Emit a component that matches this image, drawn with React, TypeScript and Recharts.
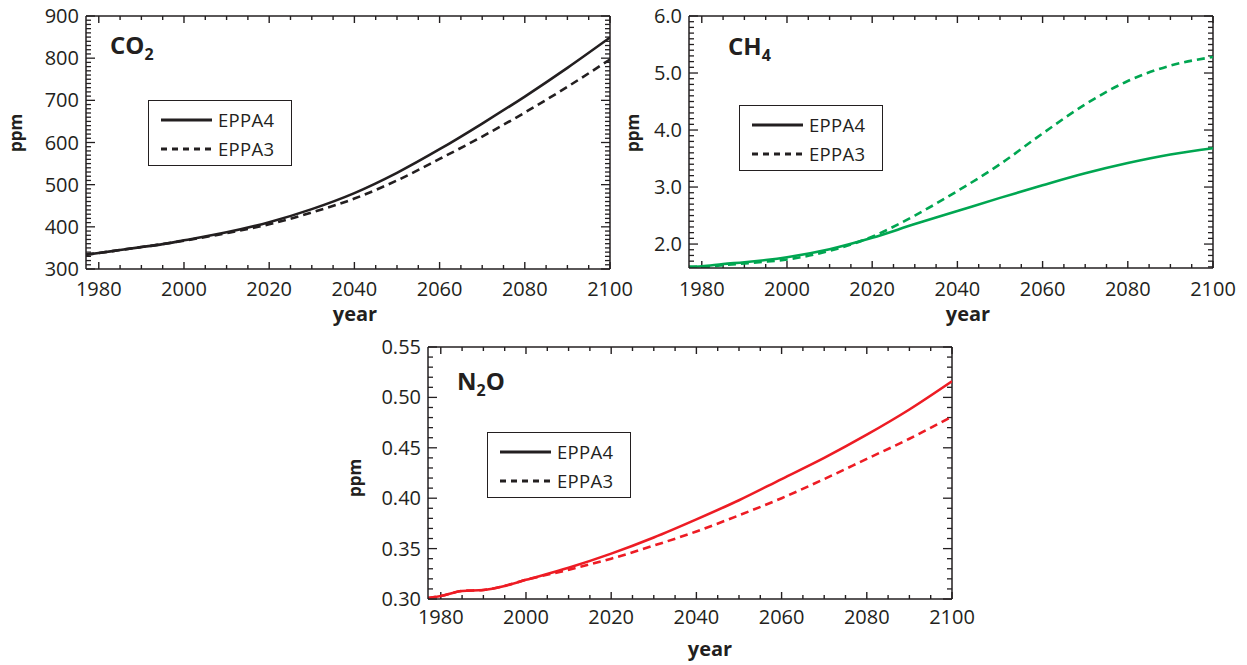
import { LineChart, Line, XAxis, YAxis, Legend, ReferenceLine } from "recharts";

const INK = "#231f20";
const FONT = "'Open Sans', 'Liberation Sans', sans-serif";

// sample years shared by all three gases
const years = [1977, 1980, 1985, 1990, 1995, 2000, 2010, 2020, 2030, 2040, 2050, 2060, 2070, 2080, 2090, 2100];

const co2Eppa4 = [334, 338, 345, 352, 359, 368, 387, 411, 442, 480, 528, 584, 645, 709, 777, 849];
const co2Eppa3 = [334, 338, 345, 352, 359, 367, 385, 406, 434, 467, 510, 561, 614, 671, 732, 797];

const ch4Eppa4 = [1.6, 1.61, 1.65, 1.68, 1.72, 1.77, 1.91, 2.11, 2.35, 2.58, 2.81, 3.03, 3.24, 3.42, 3.57, 3.68];
const ch4Eppa3 = [1.6, 1.6, 1.63, 1.66, 1.69, 1.73, 1.88, 2.13, 2.5, 2.93, 3.4, 3.94, 4.45, 4.86, 5.13, 5.28];

const n2oEppa4 = [0.301, 0.303, 0.308, 0.309, 0.313, 0.319, 0.331, 0.345, 0.361, 0.379, 0.398, 0.419, 0.44, 0.463, 0.488, 0.516];
const n2oEppa3 = [0.301, 0.303, 0.308, 0.309, 0.313, 0.319, 0.329, 0.34, 0.353, 0.367, 0.383, 0.4, 0.419, 0.439, 0.459, 0.481];

const yearLabels = [1980, 2000, 2020, 2040, 2060, 2080, 2100];
const co2Labels = [300, 400, 500, 600, 700, 800, 900];
const ch4Labels = [2, 3, 4, 5, 6];
const n2oLabels = [0.3, 0.35, 0.4, 0.45, 0.5, 0.55];

const steps = (start: number, end: number, step: number) => {
  const out: number[] = [];
  for (let v = start; v <= end + step / 2; v += step) out.push(Math.round(v * 1000) / 1000);
  return out;
};

const yearTicks = steps(1980, 2100, 5);
const X_DOMAIN: [number, number] = [1977, 2100];

const PLOT_W = 524;
const M_TOP = 20;
const M_RIGHT = 40;
const Y_W = 60;
const X_H = 40;

const isMajor = (v: number, labels: number[]) => labels.some((l) => Math.abs(l - v) < 1e-6);

// tick labels only; the tick marks are drawn as reference segments inside the frame
const makeLabel =
  (side: "bottom" | "left", labels: number[], fmt: (v: number) => string, labelGap: number) =>
  (props: any) => {
    const x = Number(props.x);
    const y = Number(props.y);
    const value = props.payload?.value;
    if (!isMajor(value, labels)) return <g />;
    return side === "bottom" ? (
      <text x={x} y={y + labelGap} textAnchor="middle" fontSize={20} fontFamily={FONT} fill={INK}>
        {fmt(value)}
      </text>
    ) : (
      <text x={x - 7} y={y + 7} textAnchor="end" fontSize={20} fontFamily={FONT} fill={INK}>
        {fmt(value)}
      </text>
    );
  };

const renderLegend = (props: any) => {
  const items = [...(props.payload || [])].sort((a: any, b: any) => String(b.value).localeCompare(String(a.value)));
  return (
    <div
      style={{
        width: 144,
        height: 66,
        boxSizing: "border-box",
        border: `1.5px solid ${INK}`,
        background: "#fff",
        paddingTop: 4,
        paddingLeft: 12,
      }}
    >
      {items.map((entry: any) => (
        <div key={entry.value} style={{ display: "flex", alignItems: "center", height: 29 }}>
          <svg width={51} height={10}>
            <line
              x1={0}
              x2={51}
              y1={5}
              y2={5}
              stroke={INK}
              strokeWidth={3}
              strokeDasharray={entry.value === "EPPA3" ? "6 5" : undefined}
            />
          </svg>
          <span style={{ marginLeft: 6, fontSize: 18.5, letterSpacing: 0.3, fontFamily: FONT, color: INK }}>
            {entry.value}
          </span>
        </div>
      ))}
    </div>
  );
};

type PanelProps = {
  plotLeft: number;
  plotTop: number;
  plotH: number;
  color: string;
  eppa4: number[];
  eppa3: number[];
  yDomain: [number, number];
  yTicks: number[];
  yLabels: number[];
  digits: number;
  labelGap: number;
  legendLeft: number;
  legendTop: number;
};

function GasPanel(p: PanelProps) {
  const data = years.map((year, i) => ({ year, EPPA4: p.eppa4[i], EPPA3: p.eppa3[i] }));
  const fmtY = (v: number) => v.toFixed(p.digits);
  const fmtX = (v: number) => String(v);
  const frame = { stroke: INK, strokeWidth: 1.5 };
  const [x0, x1] = X_DOMAIN;
  const [y0, y1] = p.yDomain;
  // tick lengths, pixels converted to data units of the other axis
  const perPxY = (y1 - y0) / p.plotH;
  const perPxX = (x1 - x0) / PLOT_W;
  const xTickMarks = yearTicks.flatMap((v) => {
    const len = (isMajor(v, yearLabels) ? 7 : 4) * perPxY;
    return [
      [
        { x: v, y: y0 },
        { x: v, y: y0 + len },
      ],
      [
        { x: v, y: y1 },
        { x: v, y: y1 - len },
      ],
    ];
  });
  const yTickMarks = p.yTicks.flatMap((v) => {
    const len = (isMajor(v, p.yLabels) ? 9 : 5) * perPxX;
    return [
      [
        { x: x0, y: v },
        { x: x0 + len, y: v },
      ],
      [
        { x: x1, y: v },
        { x: x1 - len, y: v },
      ],
    ];
  });
  const left = p.plotLeft - Y_W;
  const top = p.plotTop - M_TOP;
  return (
    <div style={{ position: "absolute", left, top }}>
      <LineChart
        width={Y_W + PLOT_W + M_RIGHT}
        height={M_TOP + p.plotH + X_H}
        data={data}
        margin={{ top: M_TOP, right: M_RIGHT, bottom: 0, left: 0 }}
      >
        <XAxis
          dataKey="year"
          type="number"
          domain={X_DOMAIN}
          allowDataOverflow
          ticks={yearTicks}
          interval={0}
          height={X_H}
          tickSize={0}
          tickMargin={0}
          tickLine={false}
          axisLine={frame}
          tick={makeLabel("bottom", yearLabels, fmtX, p.labelGap)}
        />
        <YAxis
          type="number"
          domain={p.yDomain}
          allowDataOverflow
          ticks={p.yTicks}
          interval={0}
          width={Y_W}
          tickSize={0}
          tickMargin={0}
          tickLine={false}
          axisLine={frame}
          tick={makeLabel("left", p.yLabels, fmtY, 0)}
        />
        <ReferenceLine y={y1} stroke={INK} strokeWidth={1.5} ifOverflow="visible" />
        <ReferenceLine x={x1} stroke={INK} strokeWidth={1.5} ifOverflow="visible" />
        {xTickMarks.map((seg, i) => (
          <ReferenceLine key={`xt${i}`} segment={seg} stroke={INK} strokeWidth={1.4} ifOverflow="visible" />
        ))}
        {yTickMarks.map((seg, i) => (
          <ReferenceLine key={`yt${i}`} segment={seg} stroke={INK} strokeWidth={1.3} ifOverflow="visible" />
        ))}
        <Legend
          layout="vertical"
          align="center"
          verticalAlign="middle"
          wrapperStyle={{ left: p.legendLeft, top: p.legendTop, width: 144, height: 66 }}
          content={renderLegend}
        />
        <Line
          type="monotone"
          dataKey="EPPA4"
          name="EPPA4"
          stroke={p.color}
          strokeWidth={2.6}
          dot={false}
          isAnimationActive={false}
        />
        <Line
          type="monotone"
          dataKey="EPPA3"
          name="EPPA3"
          stroke={p.color}
          strokeWidth={2.6}
          strokeDasharray="8 5"
          dot={false}
          isAnimationActive={false}
        />
      </LineChart>
    </div>
  );
}

export default function App() {
  return (
    <div
      style={{
        position: "absolute",
        left: 0,
        top: 0,
        width: 1247,
        height: 665,
        background: "#fff",
        fontFamily: FONT,
        overflow: "hidden",
      }}
    >
      <GasPanel
        plotLeft={86}
        plotTop={16}
        plotH={253}
        color={INK}
        eppa4={co2Eppa4}
        eppa3={co2Eppa3}
        yDomain={[300, 900]}
        yTicks={steps(300, 900, 10)}
        yLabels={co2Labels}
        digits={0}
        labelGap={27}
        legendLeft={122}
        legendTop={104}
      />
      <GasPanel
        plotLeft={689}
        plotTop={16}
        plotH={252}
        color="#00a651"
        eppa4={ch4Eppa4}
        eppa3={ch4Eppa3}
        yDomain={[1.58, 6]}
        yTicks={steps(1.6, 6, 0.1)}
        yLabels={ch4Labels}
        digits={1}
        labelGap={28}
        legendLeft={110}
        legendTop={109}
      />
      <GasPanel
        plotLeft={428}
        plotTop={347}
        plotH={252}
        color="#ed1c24"
        eppa4={n2oEppa4}
        eppa3={n2oEppa3}
        yDomain={[0.3, 0.55]}
        yTicks={steps(0.3, 0.55, 0.01)}
        yLabels={n2oLabels}
        digits={2}
        labelGap={25}
        legendLeft={119}
        legendTop={105}
      />
      <svg
        width={1247}
        height={665}
        style={{ position: "absolute", left: 0, top: 0, pointerEvents: "none" }}
        fontFamily={FONT}
        fill={INK}
      >
        <text x={110} y={54} fontSize={24} fontWeight="bold">
          CO<tspan fontSize={16} dy={6}>2</tspan>
        </text>
        <text x={728} y={55} fontSize={24} fontWeight="bold">
          CH<tspan fontSize={16} dy={6}>4</tspan>
        </text>
        <text x={457} y={390} fontSize={24} fontWeight="bold">
          N<tspan fontSize={16} dy={6}>2</tspan>
          <tspan fontSize={24} dy={-6}>O</tspan>
        </text>
        <text x={355} y={321} fontSize={20} fontWeight="bold" textAnchor="middle">
          year
        </text>
        <text x={968} y={321} fontSize={20} fontWeight="bold" textAnchor="middle">
          year
        </text>
        <text x={710} y={656} fontSize={20} fontWeight="bold" textAnchor="middle">
          year
        </text>
        <text x={22} y={133} fontSize={17} fontWeight="bold" textAnchor="middle" transform="rotate(-90 22 133)">
          ppm
        </text>
        <text x={639} y={133} fontSize={17} fontWeight="bold" textAnchor="middle" transform="rotate(-90 639 133)">
          ppm
        </text>
        <text x={361} y={478} fontSize={17} fontWeight="bold" textAnchor="middle" transform="rotate(-90 361 478)">
          ppm
        </text>
      </svg>
    </div>
  );
}
